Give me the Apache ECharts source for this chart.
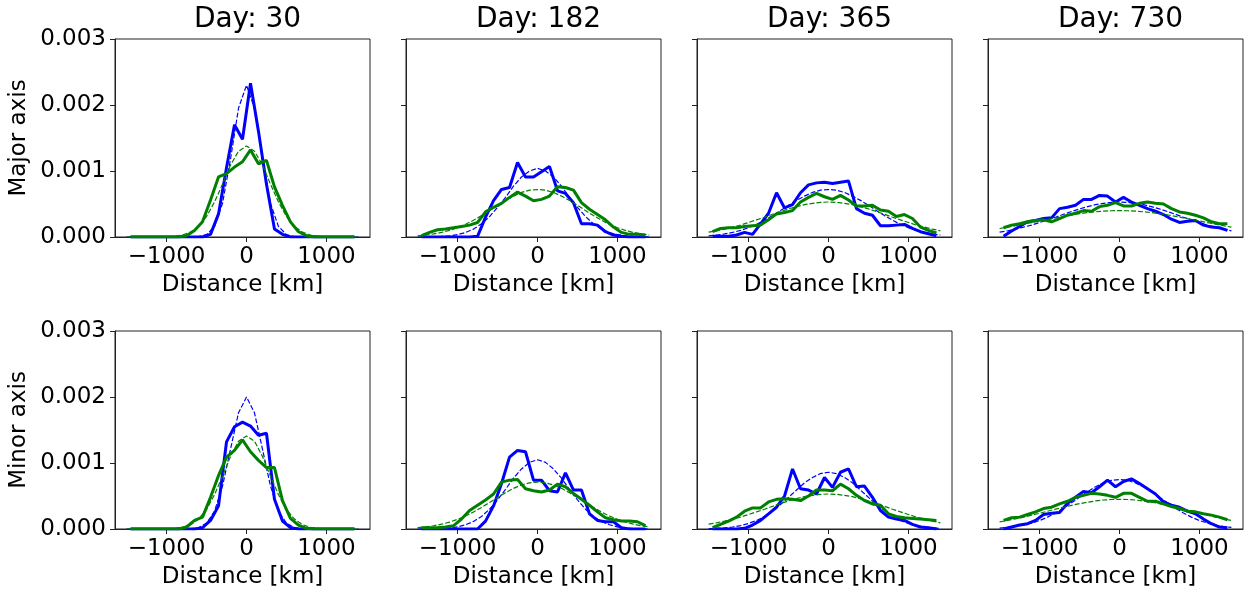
<!DOCTYPE html>
<html>
<head>
<meta charset="utf-8">
<script src="https://cdn.jsdelivr.net/npm/echarts@6/dist/echarts.min.js"></script>
<style>
  html, body { margin: 0; padding: 0; background: #fff; }
  #chart { width: 1250px; height: 591px; }
</style>
</head>
<body>
<div id="chart"></div>
<script>
// bin centres of the histograms (km) and the grid the fitted curves are drawn on
const xBins = [-1450, -1350, -1250, -1150, -1050, -950, -850, -750, -650, -550, -450, -350, -250, -150, -50,
    50, 150, 250, 350, 450, 550, 650, 750, 850, 950, 1050, 1150, 1250, 1350]
const xFit = [-1500, -1400, -1300, -1200, -1100, -1000, -900, -800, -700, -600, -500, -400, -300, -200, -100,
    0, 100, 200, 300, 400, 500, 600, 700, 800, 900, 1000, 1100, 1200, 1300, 1400]

const days = [30, 182, 365, 730]
const rowNames = ['Major axis', 'Minor axis']
const xTicks = [-1000, 0, 1000]

// ---- major axis ----
const blueMajor30 = [0, 0, 0, 0, 0, 0, 0, 0, 0, 0, 0.00004, 0.00035, 0.00105, 0.0017, 0.00148, 0.00233, 0.0016, 0.0008, 0.00012, 0.00004, 0, 0, 0, 0, 0, 0, 0, 0, 0]
const greenMajor30 = [0, 0, 0, 0, 0, 0, 0, 0.00002, 0.0001, 0.00023, 0.00056, 0.00091, 0.00096, 0.00106, 0.00114, 0.00132, 0.00111, 0.00116, 0.00076, 0.00048, 0.00023, 0.00008, 0.00002, 0, 0, 0, 0, 0, 0]
const blueMajorFit30 = [0, 0, 0, 0, 0, 0, 0, 0, 0, 0.000006, 0.000035, 0.00016, 0.00051, 0.00118, 0.00195, 0.0023, 0.00195, 0.00118, 0.00051, 0.00016, 0.000035, 0.000006, 0, 0, 0, 0, 0, 0, 0, 0]
const greenMajorFit30 = [0, 0, 0, 0, 0, 0, 0.00001, 0.00003, 0.000074, 0.00016, 0.00031, 0.00053, 0.0008, 0.00109, 0.0013, 0.00138, 0.0013, 0.00109, 0.0008, 0.00053, 0.00031, 0.00016, 0.000074, 0.00003, 0.00001, 0, 0, 0, 0, 0]

const blueMajor182 = [0, 0, 0, 0, 0, 0, 0, 0.00001, 0.0003, 0.00055, 0.00072, 0.00075, 0.00113, 0.00091, 0.00091, 0.00099, 0.00107, 0.0007, 0.00066, 0.00052, 0.0002, 0.0002, 0.00018, 0.00008, 0.00003, 0.00001, 0, 0, 0]
const greenMajor182 = [0.00002, 0.00007, 0.00011, 0.00012, 0.00014, 0.00016, 0.00018, 0.00022, 0.00038, 0.00045, 0.00051, 0.0006, 0.00068, 0.00062, 0.00055, 0.00057, 0.00062, 0.00076, 0.00075, 0.00071, 0.00052, 0.00042, 0.00034, 0.00026, 0.00015, 0.00007, 0.00004, 0.00004, 0.00003]
const blueMajorFit182 = [0, 0.000001, 0.000003, 0.000008, 0.000017, 0.000035, 0.000067, 0.00012, 0.0002, 0.00031, 0.00045, 0.0006, 0.00077, 0.00091, 0.001, 0.00104, 0.001, 0.00091, 0.00077, 0.0006, 0.00045, 0.00031, 0.0002, 0.00012, 0.000067, 0.000035, 0.000017, 0.000008, 0.000003, 0.000001]
const greenMajorFit182 = [0.000018, 0.00003, 0.000046, 0.000069, 0.0001, 0.000141, 0.000192, 0.000254, 0.000324, 0.0004, 0.00048, 0.000555, 0.00062, 0.000675, 0.00071, 0.00072, 0.00071, 0.000675, 0.00062, 0.000555, 0.00048, 0.0004, 0.000324, 0.000254, 0.000192, 0.000141, 0.0001, 0.000069, 0.000046, 0.00003]

const blueMajor365 = [0.00001, 0.00001, 0.00001, 0.00003, 0.00007, 0.00004, 0.0002, 0.00036, 0.00067, 0.00044, 0.00049, 0.00067, 0.00079, 0.00082, 0.00083, 0.00081, 0.00083, 0.00085, 0.00043, 0.00036, 0.00033, 0.00017, 0.00017, 0.00018, 0.00019, 0.00013, 0.00008, 0.00005, 0.00002]
const greenMajor365 = [0.00008, 0.00013, 0.00014, 0.00014, 0.00016, 0.00017, 0.00018, 0.00026, 0.00035, 0.00037, 0.0004, 0.00053, 0.0006, 0.00066, 0.00061, 0.00057, 0.00063, 0.00056, 0.00047, 0.00047, 0.00048, 0.00041, 0.00039, 0.00031, 0.00034, 0.00028, 0.00015, 0.0001, 0.00006]
const blueMajorFit365 = [0.000018, 0.00003, 0.000046, 0.000069, 0.0001, 0.000141, 0.000192, 0.000254, 0.000324, 0.0004, 0.00048, 0.000555, 0.00062, 0.000675, 0.00071, 0.00072, 0.00071, 0.000675, 0.00062, 0.000555, 0.00048, 0.0004, 0.000324, 0.000254, 0.000192, 0.000141, 0.0001, 0.000069, 0.000046, 0.00003]
const greenMajorFit365 = [0.000073, 0.000094, 0.00012, 0.00015, 0.00018, 0.00022, 0.00026, 0.0003, 0.000344, 0.000386, 0.000425, 0.00046, 0.00049, 0.00051, 0.000525, 0.00053, 0.000525, 0.00051, 0.00049, 0.00046, 0.000425, 0.000386, 0.000344, 0.0003, 0.00026, 0.00022, 0.00018, 0.00015, 0.00012, 0.000094]

const blueMajor730 = [0.00001, 0.00009, 0.00016, 0.00023, 0.00025, 0.00028, 0.00029, 0.00043, 0.00045, 0.00048, 0.00057, 0.00057, 0.00063, 0.00062, 0.00053, 0.0006, 0.00053, 0.00048, 0.00043, 0.00039, 0.00034, 0.00027, 0.00022, 0.00024, 0.00025, 0.00018, 0.00015, 0.00014, 0.0001]
const greenMajor730 = [0.00014, 0.00018, 0.0002, 0.00023, 0.00025, 0.00026, 0.00023, 0.00028, 0.00033, 0.00036, 0.0004, 0.00039, 0.00046, 0.00048, 0.00052, 0.00047, 0.00047, 0.00051, 0.00053, 0.00051, 0.0005, 0.00043, 0.00038, 0.00036, 0.00033, 0.00029, 0.00023, 0.0002, 0.0002]
const blueMajorFit730 = [0.000073, 0.000094, 0.00012, 0.00015, 0.00018, 0.00022, 0.00026, 0.0003, 0.000344, 0.000386, 0.000425, 0.00046, 0.00049, 0.00051, 0.000525, 0.00053, 0.000525, 0.00051, 0.00049, 0.00046, 0.000425, 0.000386, 0.000344, 0.0003, 0.00026, 0.00022, 0.00018, 0.00015, 0.00012, 0.000094]
const greenMajorFit730 = [0.000129, 0.000149, 0.000171, 0.000194, 0.000218, 0.000242, 0.000266, 0.00029, 0.000313, 0.000334, 0.000353, 0.000369, 0.000382, 0.000392, 0.000398, 0.0004, 0.000398, 0.000392, 0.000382, 0.000369, 0.000353, 0.000334, 0.000313, 0.00029, 0.000266, 0.000242, 0.000218, 0.000194, 0.000171, 0.000149]

// ---- minor axis ----
const blueMinor30 = [0, 0, 0, 0, 0, 0, 0, 0, 0, 0.00002, 0.00013, 0.00035, 0.00132, 0.00155, 0.00162, 0.00156, 0.00142, 0.00145, 0.00045, 0.00012, 0.00002, 0, 0, 0, 0, 0, 0, 0, 0]
const greenMinor30 = [0, 0, 0, 0, 0, 0, 0, 0.00003, 0.00013, 0.00018, 0.00048, 0.00081, 0.00109, 0.00119, 0.00135, 0.00117, 0.00104, 0.00093, 0.00093, 0.00043, 0.00016, 0.00006, 0.00001, 0, 0, 0, 0, 0, 0]
const blueMinorFit30 = [0, 0, 0, 0, 0, 0, 0, 0, 0.000004, 0.00002, 0.000087, 0.00027, 0.00065, 0.00121, 0.00176, 0.002, 0.00176, 0.00121, 0.00065, 0.00027, 0.000087, 0.00002, 0.000004, 0, 0, 0, 0, 0, 0, 0]
const greenMinorFit30 = [0, 0, 0, 0, 0, 0, 0.000009, 0.000026, 0.000066, 0.00015, 0.000296, 0.00052, 0.0008, 0.0011, 0.00133, 0.00141, 0.00133, 0.0011, 0.0008, 0.00052, 0.000296, 0.00015, 0.000066, 0.000026, 0.000009, 0, 0, 0, 0, 0]

const blueMinor182 = [0, 0, 0, 0, 0, 0, 0, 0, 0.00012, 0.00035, 0.00069, 0.00109, 0.00119, 0.00117, 0.00074, 0.00074, 0.00058, 0.00056, 0.00085, 0.00059, 0.00059, 0.00023, 0.00013, 0.00011, 0.00011, 0.00002, 0, 0, 0]
const greenMinor182 = [0.00002, 0.00002, 0.00002, 0.00003, 0.00005, 0.00015, 0.00028, 0.00036, 0.00044, 0.00053, 0.00071, 0.00074, 0.00075, 0.00061, 0.00058, 0.00056, 0.00059, 0.00068, 0.00064, 0.00054, 0.00045, 0.00036, 0.00026, 0.00017, 0.00014, 0.00012, 0.00012, 0.00011, 0.00005]
const blueMinorFit182 = [0, 0.000001, 0.000003, 0.000007, 0.000016, 0.000033, 0.000064, 0.000115, 0.00019, 0.0003, 0.00044, 0.0006, 0.00077, 0.00091, 0.00101, 0.00105, 0.00101, 0.00091, 0.00077, 0.0006, 0.00044, 0.0003, 0.00019, 0.000115, 0.000064, 0.000033, 0.000016, 0.000007, 0.000003, 0.000001]
const greenMinorFit182 = [0.00002, 0.000032, 0.000049, 0.000073, 0.000105, 0.000146, 0.000197, 0.000258, 0.000327, 0.000402, 0.000478, 0.000551, 0.000616, 0.000667, 0.0007, 0.00071, 0.0007, 0.000667, 0.000616, 0.000551, 0.000478, 0.000402, 0.000327, 0.000258, 0.000197, 0.000146, 0.000105, 0.000073, 0.000049, 0.000032]

const blueMinor365 = [0, 0, 0, 0, 0.00001, 0.00006, 0.00013, 0.00023, 0.00033, 0.0005, 0.00091, 0.00061, 0.00059, 0.00053, 0.00078, 0.00063, 0.00086, 0.00091, 0.00064, 0.00065, 0.00048, 0.00028, 0.00018, 0.00015, 0.00013, 0.00007, 0.00003, 0.00002, 0]
const greenMinor365 = [0.00002, 0.00007, 0.00012, 0.00018, 0.00027, 0.00032, 0.00032, 0.00041, 0.00045, 0.00046, 0.00045, 0.00043, 0.0005, 0.00059, 0.00059, 0.00058, 0.00068, 0.00061, 0.00051, 0.00043, 0.00038, 0.00036, 0.00023, 0.00019, 0.00017, 0.00016, 0.00015, 0.00014, 0.00013]
const blueMinorFit365 = [0.000005, 0.000009, 0.000017, 0.00003, 0.000052, 0.000084, 0.00013, 0.00019, 0.00028, 0.00037, 0.00048, 0.00059, 0.0007, 0.00078, 0.00084, 0.00086, 0.00084, 0.00078, 0.0007, 0.00059, 0.00048, 0.00037, 0.00028, 0.00019, 0.00013, 0.000084, 0.000052, 0.00003, 0.000017, 0.000009]
const greenMinorFit365 = [0.000073, 0.000094, 0.00012, 0.00015, 0.00018, 0.00022, 0.00026, 0.0003, 0.000344, 0.000386, 0.000425, 0.00046, 0.00049, 0.00051, 0.000525, 0.00053, 0.000525, 0.00051, 0.00049, 0.00046, 0.000425, 0.000386, 0.000344, 0.0003, 0.00026, 0.00022, 0.00018, 0.00015, 0.00012, 0.000094]

const blueMinor730 = [0, 0.00003, 0.00006, 0.00008, 0.00013, 0.00022, 0.00024, 0.00025, 0.00039, 0.00048, 0.00057, 0.00055, 0.00064, 0.00074, 0.00064, 0.00072, 0.00076, 0.00069, 0.00061, 0.00053, 0.00041, 0.00036, 0.00033, 0.00027, 0.00023, 0.00015, 0.00008, 0.00003, 0.00002]
const greenMinor730 = [0.00013, 0.00017, 0.00018, 0.00022, 0.00026, 0.00031, 0.00033, 0.00038, 0.00042, 0.00048, 0.00051, 0.00054, 0.00053, 0.00051, 0.00048, 0.00054, 0.00054, 0.00048, 0.00042, 0.00042, 0.00038, 0.00034, 0.00031, 0.00027, 0.00026, 0.00023, 0.00021, 0.00018, 0.00014]
const blueMinorFit730 = [0.000014, 0.000024, 0.000038, 0.000059, 0.000089, 0.000128, 0.00018, 0.000242, 0.000315, 0.000397, 0.000482, 0.000565, 0.00064, 0.000699, 0.000737, 0.00075, 0.000737, 0.000699, 0.00064, 0.000565, 0.000482, 0.000397, 0.000315, 0.000242, 0.00018, 0.000128, 0.000089, 0.000059, 0.000038, 0.000024]
const greenMinorFit730 = [0.000108, 0.00013, 0.000154, 0.00018, 0.000209, 0.000238, 0.000269, 0.0003, 0.00033, 0.000358, 0.000384, 0.000406, 0.000425, 0.000439, 0.000447, 0.00045, 0.000447, 0.000439, 0.000425, 0.000406, 0.000384, 0.000358, 0.00033, 0.0003, 0.000269, 0.000238, 0.000209, 0.00018, 0.000154, 0.00013]

const panels = [
    [blueMajor30, blueMajorFit30, greenMajor30, greenMajorFit30],
    [blueMajor182, blueMajorFit182, greenMajor182, greenMajorFit182],
    [blueMajor365, blueMajorFit365, greenMajor365, greenMajorFit365],
    [blueMajor730, blueMajorFit730, greenMajor730, greenMajorFit730],
    [blueMinor30, blueMinorFit30, greenMinor30, greenMinorFit30],
    [blueMinor182, blueMinorFit182, greenMinor182, greenMinorFit182],
    [blueMinor365, blueMinorFit365, greenMinor365, greenMinorFit365],
    [blueMinor730, blueMinorFit730, greenMinor730, greenMinorFit730],
]

const FONT = 'DejaVu Sans'
const lefts = [115, 406, 697, 988]
const tops = [39, 331]
const W = 255
const H = 198
const minus = (s) => String(s).replace('-', '\u2212')

const grids = []
const xAxes = []
const yAxes = []
const series = []
const titles = []

panels.forEach((p, i) => {
    const row = Math.floor(i / 4)
    const col = i % 4
    grids.push({ left: lefts[col], top: tops[row], width: W, height: H, show: true, borderColor: '#222', borderWidth: 1, backgroundColor: 'transparent' })
    xAxes.push({
        type: 'value', gridIndex: i, min: -1645, max: 1545,
        name: 'Distance [km]', nameLocation: 'middle', nameGap: 37,
        nameTextStyle: { fontFamily: FONT, fontSize: 23, color: '#000' },
        axisLine: { show: true, onZero: false, lineStyle: { color: '#222', width: 1 } },
        axisTick: { show: true, inside: false, length: 5, customValues: xTicks, lineStyle: { color: '#222' } },
        axisLabel: { show: true, customValues: xTicks, margin: 9, fontFamily: FONT, fontSize: 23, color: '#000', formatter: (v) => minus(v) },
        splitLine: { show: false },
    })
    yAxes.push({
        type: 'value', gridIndex: i, min: 0, max: 0.003, interval: 0.001,
        name: col === 0 ? rowNames[row] : '', nameLocation: 'middle', nameGap: 84, nameRotate: 90,
        nameTextStyle: { fontFamily: FONT, fontSize: 23, color: '#000' },
        axisLine: { show: true, onZero: false, lineStyle: { color: '#222', width: 1 } },
        axisTick: { show: true, inside: false, length: 5, lineStyle: { color: '#222' } },
        axisLabel: { show: col === 0, margin: 9, fontFamily: FONT, fontSize: 23, color: '#000', formatter: (v) => v.toFixed(3) },
        splitLine: { show: false },
    })
    if (row === 0) {
        titles.push({
            text: 'Day: ' + days[col], left: lefts[col] + W / 2, top: 1, textAlign: 'center',
            textStyle: { fontFamily: FONT, fontSize: 28, fontWeight: 'normal', color: '#000' },
        })
    }
    const [blue, blueFit, green, greenFit] = p
    const mk = (xs, ys, color, dashed) => ({
        type: 'line', xAxisIndex: i, yAxisIndex: i, showSymbol: false, silent: true,
        data: xs.map((x, k) => [x, ys[k]]),
        lineStyle: dashed ? { color, width: 1.2, type: [5, 2] } : { color, width: 3 },
        clip: true,
    })
    series.push(mk(xBins, blue, '#0000ff', false))
    series.push(mk(xFit, blueFit, '#0000ff', true))
    series.push(mk(xBins, green, '#008000', false))
    series.push(mk(xFit, greenFit, '#008000', true))
})

const chart = echarts.init(document.getElementById('chart'), null, { renderer: 'canvas' })
chart.setOption({
    animation: false,
    backgroundColor: '#fff',
    title: titles,
    grid: grids,
    xAxis: xAxes,
    yAxis: yAxes,
    series: series,
})
</script>
</body>
</html>
